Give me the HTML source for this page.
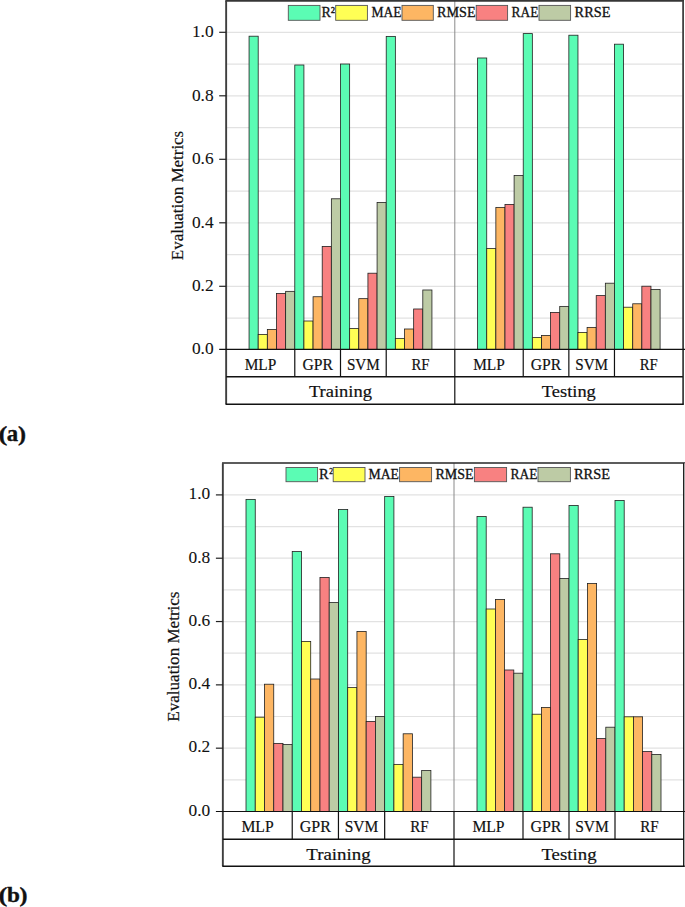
<!DOCTYPE html>
<html lang="en"><head><meta charset="utf-8"><title>Evaluation Metrics</title>
<style>html,body{margin:0;padding:0;background:#fff}svg{display:block}text{fill:#111}</style></head><body>
<svg width="685" height="907" viewBox="0 0 685 907">
<rect width="685" height="907" fill="#fff"/>
<g>
<line x1="226.2" x2="682.9" y1="318.05" y2="318.05" stroke="#e2e2e2" stroke-width="1.2"/>
<line x1="226.2" x2="682.9" y1="286.30" y2="286.30" stroke="#e2e2e2" stroke-width="1.2"/>
<line x1="226.2" x2="682.9" y1="254.55" y2="254.55" stroke="#e2e2e2" stroke-width="1.2"/>
<line x1="226.2" x2="682.9" y1="222.80" y2="222.80" stroke="#e2e2e2" stroke-width="1.2"/>
<line x1="226.2" x2="682.9" y1="191.05" y2="191.05" stroke="#e2e2e2" stroke-width="1.2"/>
<line x1="226.2" x2="682.9" y1="159.30" y2="159.30" stroke="#e2e2e2" stroke-width="1.2"/>
<line x1="226.2" x2="682.9" y1="127.55" y2="127.55" stroke="#e2e2e2" stroke-width="1.2"/>
<line x1="226.2" x2="682.9" y1="95.80" y2="95.80" stroke="#e2e2e2" stroke-width="1.2"/>
<line x1="226.2" x2="682.9" y1="64.05" y2="64.05" stroke="#e2e2e2" stroke-width="1.2"/>
<line x1="226.2" x2="682.9" y1="32.30" y2="32.30" stroke="#e2e2e2" stroke-width="1.2"/>
<line x1="454.8" x2="454.8" y1="0.65" y2="349.4" stroke="#8a8a8a" stroke-width="1"/>
<rect x="249.06" y="36.20" width="9.14" height="313.20" fill="#5bfcb4" stroke="#202020" stroke-width="0.8"/>
<rect x="258.20" y="334.40" width="9.14" height="15.00" fill="#ffff55" stroke="#202020" stroke-width="0.8"/>
<rect x="267.35" y="329.42" width="9.14" height="19.98" fill="#fdb663" stroke="#202020" stroke-width="0.8"/>
<rect x="276.49" y="293.41" width="9.14" height="55.99" fill="#f88181" stroke="#202020" stroke-width="0.8"/>
<rect x="285.64" y="291.35" width="9.14" height="58.05" fill="#bdcba5" stroke="#202020" stroke-width="0.8"/>
<rect x="294.78" y="65.00" width="9.14" height="284.40" fill="#5bfcb4" stroke="#202020" stroke-width="0.8"/>
<rect x="303.92" y="321.01" width="9.14" height="28.39" fill="#ffff55" stroke="#202020" stroke-width="0.8"/>
<rect x="313.07" y="296.74" width="9.14" height="52.66" fill="#fdb663" stroke="#202020" stroke-width="0.8"/>
<rect x="322.21" y="246.41" width="9.14" height="102.99" fill="#f88181" stroke="#202020" stroke-width="0.8"/>
<rect x="331.36" y="198.79" width="9.14" height="150.61" fill="#bdcba5" stroke="#202020" stroke-width="0.8"/>
<rect x="340.50" y="64.02" width="9.14" height="285.38" fill="#5bfcb4" stroke="#202020" stroke-width="0.8"/>
<rect x="349.64" y="328.46" width="9.14" height="20.94" fill="#ffff55" stroke="#202020" stroke-width="0.8"/>
<rect x="358.79" y="298.65" width="9.14" height="50.75" fill="#fdb663" stroke="#202020" stroke-width="0.8"/>
<rect x="367.93" y="273.21" width="9.14" height="76.19" fill="#f88181" stroke="#202020" stroke-width="0.8"/>
<rect x="377.08" y="202.41" width="9.14" height="146.99" fill="#bdcba5" stroke="#202020" stroke-width="0.8"/>
<rect x="386.22" y="36.39" width="9.14" height="313.01" fill="#5bfcb4" stroke="#202020" stroke-width="0.8"/>
<rect x="395.36" y="338.39" width="9.14" height="11.01" fill="#ffff55" stroke="#202020" stroke-width="0.8"/>
<rect x="404.51" y="329.00" width="9.14" height="20.40" fill="#fdb663" stroke="#202020" stroke-width="0.8"/>
<rect x="413.65" y="308.99" width="9.14" height="40.41" fill="#f88181" stroke="#202020" stroke-width="0.8"/>
<rect x="422.80" y="289.99" width="9.14" height="59.41" fill="#bdcba5" stroke="#202020" stroke-width="0.8"/>
<rect x="477.61" y="57.99" width="9.12" height="291.41" fill="#5bfcb4" stroke="#202020" stroke-width="0.8"/>
<rect x="486.73" y="248.59" width="9.12" height="100.81" fill="#ffff55" stroke="#202020" stroke-width="0.8"/>
<rect x="495.86" y="207.39" width="9.12" height="142.01" fill="#fdb663" stroke="#202020" stroke-width="0.8"/>
<rect x="504.98" y="204.41" width="9.12" height="144.99" fill="#f88181" stroke="#202020" stroke-width="0.8"/>
<rect x="514.11" y="175.57" width="9.12" height="173.83" fill="#bdcba5" stroke="#202020" stroke-width="0.8"/>
<rect x="523.23" y="33.60" width="9.12" height="315.80" fill="#5bfcb4" stroke="#202020" stroke-width="0.8"/>
<rect x="532.35" y="337.60" width="9.12" height="11.80" fill="#ffff55" stroke="#202020" stroke-width="0.8"/>
<rect x="541.48" y="335.41" width="9.12" height="13.99" fill="#fdb663" stroke="#202020" stroke-width="0.8"/>
<rect x="550.60" y="312.41" width="9.12" height="36.99" fill="#f88181" stroke="#202020" stroke-width="0.8"/>
<rect x="559.73" y="306.39" width="9.12" height="43.01" fill="#bdcba5" stroke="#202020" stroke-width="0.8"/>
<rect x="568.85" y="35.21" width="9.12" height="314.19" fill="#5bfcb4" stroke="#202020" stroke-width="0.8"/>
<rect x="577.97" y="332.40" width="9.12" height="17.00" fill="#ffff55" stroke="#202020" stroke-width="0.8"/>
<rect x="587.10" y="327.39" width="9.12" height="22.01" fill="#fdb663" stroke="#202020" stroke-width="0.8"/>
<rect x="596.22" y="295.60" width="9.12" height="53.80" fill="#f88181" stroke="#202020" stroke-width="0.8"/>
<rect x="605.35" y="283.20" width="9.12" height="66.20" fill="#bdcba5" stroke="#202020" stroke-width="0.8"/>
<rect x="614.47" y="44.19" width="9.12" height="305.21" fill="#5bfcb4" stroke="#202020" stroke-width="0.8"/>
<rect x="623.59" y="307.21" width="9.12" height="42.19" fill="#ffff55" stroke="#202020" stroke-width="0.8"/>
<rect x="632.72" y="303.79" width="9.12" height="45.61" fill="#fdb663" stroke="#202020" stroke-width="0.8"/>
<rect x="641.84" y="286.21" width="9.12" height="63.19" fill="#f88181" stroke="#202020" stroke-width="0.8"/>
<rect x="650.97" y="289.39" width="9.12" height="60.01" fill="#bdcba5" stroke="#202020" stroke-width="0.8"/>
<line x1="225.35" x2="684.0" y1="0.8" y2="0.8" stroke="#363636" stroke-width="1.7"/>
<line x1="226.14999999999998" x2="226.14999999999998" y1="0.65" y2="404.2" stroke="#3e3e3e" stroke-width="1.9"/>
<line x1="683.1" x2="683.1" y1="0.65" y2="404.7" stroke="#424242" stroke-width="1.8"/>
<line x1="219.2" x2="685" y1="349.4" y2="349.4" stroke="#111" stroke-width="1.2"/>
<line x1="226.2" x2="682.9" y1="376.8" y2="376.8" stroke="#111" stroke-width="1.4"/>
<line x1="225.6" x2="683.6" y1="404.2" y2="404.2" stroke="#111" stroke-width="1.4"/>
<line x1="454.8" x2="454.8" y1="349.4" y2="404.2" stroke="#111" stroke-width="1.2"/>
<text x="213.6" y="354.30" font-family="Liberation Serif, serif" font-size="16.4" stroke="#111" stroke-width="0.08" text-anchor="end" textLength="21.7" lengthAdjust="spacingAndGlyphs">0.0</text>
<line x1="219.2" x2="226.2" y1="286.30" y2="286.30" stroke="#222" stroke-width="1.2"/>
<text x="213.6" y="291.20" font-family="Liberation Serif, serif" font-size="16.4" stroke="#111" stroke-width="0.08" text-anchor="end" textLength="21.7" lengthAdjust="spacingAndGlyphs">0.2</text>
<line x1="219.2" x2="226.2" y1="222.80" y2="222.80" stroke="#222" stroke-width="1.2"/>
<text x="213.6" y="227.70" font-family="Liberation Serif, serif" font-size="16.4" stroke="#111" stroke-width="0.08" text-anchor="end" textLength="21.7" lengthAdjust="spacingAndGlyphs">0.4</text>
<line x1="219.2" x2="226.2" y1="159.30" y2="159.30" stroke="#222" stroke-width="1.2"/>
<text x="213.6" y="164.20" font-family="Liberation Serif, serif" font-size="16.4" stroke="#111" stroke-width="0.08" text-anchor="end" textLength="21.7" lengthAdjust="spacingAndGlyphs">0.6</text>
<line x1="219.2" x2="226.2" y1="95.80" y2="95.80" stroke="#222" stroke-width="1.2"/>
<text x="213.6" y="100.70" font-family="Liberation Serif, serif" font-size="16.4" stroke="#111" stroke-width="0.08" text-anchor="end" textLength="21.7" lengthAdjust="spacingAndGlyphs">0.8</text>
<line x1="219.2" x2="226.2" y1="32.30" y2="32.30" stroke="#222" stroke-width="1.2"/>
<text x="213.6" y="37.20" font-family="Liberation Serif, serif" font-size="16.4" stroke="#111" stroke-width="0.08" text-anchor="end" textLength="21.7" lengthAdjust="spacingAndGlyphs">1.0</text>
<line x1="294.78" x2="294.78" y1="349.4" y2="376.8" stroke="#111" stroke-width="1.2"/>
<line x1="340.50" x2="340.50" y1="349.4" y2="376.8" stroke="#111" stroke-width="1.2"/>
<line x1="386.22" x2="386.22" y1="349.4" y2="376.8" stroke="#111" stroke-width="1.2"/>
<text x="260.49" y="369.70" font-family="Liberation Serif, serif" font-size="17" stroke="#111" stroke-width="0.2" text-anchor="middle" textLength="31.6" lengthAdjust="spacingAndGlyphs">MLP</text>
<text x="317.64" y="369.70" font-family="Liberation Serif, serif" font-size="17" stroke="#111" stroke-width="0.2" text-anchor="middle" textLength="30.4" lengthAdjust="spacingAndGlyphs">GPR</text>
<text x="363.36" y="369.70" font-family="Liberation Serif, serif" font-size="17" stroke="#111" stroke-width="0.2" text-anchor="middle" textLength="32.9" lengthAdjust="spacingAndGlyphs">SVM</text>
<text x="420.51" y="369.70" font-family="Liberation Serif, serif" font-size="17" stroke="#111" stroke-width="0.2" text-anchor="middle" textLength="18.0" lengthAdjust="spacingAndGlyphs">RF</text>
<text x="340.50" y="397.30" font-family="Liberation Serif, serif" font-size="17" stroke="#111" stroke-width="0.2" text-anchor="middle" textLength="63.1" lengthAdjust="spacingAndGlyphs">Training</text>
<line x1="523.23" x2="523.23" y1="349.4" y2="376.8" stroke="#111" stroke-width="1.2"/>
<line x1="568.85" x2="568.85" y1="349.4" y2="376.8" stroke="#111" stroke-width="1.2"/>
<line x1="614.47" x2="614.47" y1="349.4" y2="376.8" stroke="#111" stroke-width="1.2"/>
<text x="489.01" y="369.70" font-family="Liberation Serif, serif" font-size="17" stroke="#111" stroke-width="0.2" text-anchor="middle" textLength="31.6" lengthAdjust="spacingAndGlyphs">MLP</text>
<text x="546.04" y="369.70" font-family="Liberation Serif, serif" font-size="17" stroke="#111" stroke-width="0.2" text-anchor="middle" textLength="30.4" lengthAdjust="spacingAndGlyphs">GPR</text>
<text x="591.66" y="369.70" font-family="Liberation Serif, serif" font-size="17" stroke="#111" stroke-width="0.2" text-anchor="middle" textLength="32.9" lengthAdjust="spacingAndGlyphs">SVM</text>
<text x="648.68" y="369.70" font-family="Liberation Serif, serif" font-size="17" stroke="#111" stroke-width="0.2" text-anchor="middle" textLength="18.0" lengthAdjust="spacingAndGlyphs">RF</text>
<text x="568.85" y="397.30" font-family="Liberation Serif, serif" font-size="17" stroke="#111" stroke-width="0.2" text-anchor="middle" textLength="54.0" lengthAdjust="spacingAndGlyphs">Testing</text>
<text transform="translate(182.7,195.5) rotate(-90)" font-family="Liberation Serif, serif" font-size="16" stroke="#111" stroke-width="0.2" text-anchor="middle" textLength="129.4" lengthAdjust="spacingAndGlyphs">Evaluation Metrics</text>
<rect x="288.3" y="5.4" width="31.70" height="14.90" fill="#5bfcb4" stroke="#555" stroke-width="0.9"/>
<text x="321.4" y="17.2" font-family="Liberation Serif, serif" font-size="14.5" stroke="#111" stroke-width="0.3" textLength="13.6" lengthAdjust="spacingAndGlyphs">R²</text>
<rect x="335.7" y="5.4" width="31.70" height="14.90" fill="#ffff55" stroke="#555" stroke-width="0.9"/>
<text x="371.4" y="17.2" font-family="Liberation Serif, serif" font-size="14.5" stroke="#111" stroke-width="0.3" textLength="30.2" lengthAdjust="spacingAndGlyphs">MAE</text>
<rect x="402.0" y="5.4" width="31.30" height="14.90" fill="#fdb663" stroke="#555" stroke-width="0.9"/>
<text x="437.0" y="17.2" font-family="Liberation Serif, serif" font-size="14.5" stroke="#111" stroke-width="0.3" textLength="38.6" lengthAdjust="spacingAndGlyphs">RMSE</text>
<rect x="476.2" y="5.4" width="31.40" height="14.90" fill="#f88181" stroke="#555" stroke-width="0.9"/>
<text x="511.6" y="17.2" font-family="Liberation Serif, serif" font-size="14.5" stroke="#111" stroke-width="0.3" textLength="26.8" lengthAdjust="spacingAndGlyphs">RAE</text>
<rect x="539.0" y="5.4" width="31.60" height="14.90" fill="#bdcba5" stroke="#555" stroke-width="0.9"/>
<text x="574.6" y="17.2" font-family="Liberation Serif, serif" font-size="14.5" stroke="#111" stroke-width="0.3" textLength="35.8" lengthAdjust="spacingAndGlyphs">RRSE</text>
<text y="441.0" font-family="Liberation Serif, serif" font-weight="bold" stroke="#111" stroke-width="0.35"><tspan x="-1.5" font-size="22" textLength="8.8" lengthAdjust="spacingAndGlyphs">(</tspan><tspan x="6.8" font-size="23.4" textLength="11.4" lengthAdjust="spacingAndGlyphs">a</tspan><tspan x="18.1" font-size="22" textLength="8.0" lengthAdjust="spacingAndGlyphs">)</tspan></text>
</g>
<g>
<line x1="222.9" x2="684.0" y1="779.84" y2="779.84" stroke="#e2e2e2" stroke-width="1.2"/>
<line x1="222.9" x2="684.0" y1="748.18" y2="748.18" stroke="#e2e2e2" stroke-width="1.2"/>
<line x1="222.9" x2="684.0" y1="716.52" y2="716.52" stroke="#e2e2e2" stroke-width="1.2"/>
<line x1="222.9" x2="684.0" y1="684.86" y2="684.86" stroke="#e2e2e2" stroke-width="1.2"/>
<line x1="222.9" x2="684.0" y1="653.20" y2="653.20" stroke="#e2e2e2" stroke-width="1.2"/>
<line x1="222.9" x2="684.0" y1="621.54" y2="621.54" stroke="#e2e2e2" stroke-width="1.2"/>
<line x1="222.9" x2="684.0" y1="589.88" y2="589.88" stroke="#e2e2e2" stroke-width="1.2"/>
<line x1="222.9" x2="684.0" y1="558.22" y2="558.22" stroke="#e2e2e2" stroke-width="1.2"/>
<line x1="222.9" x2="684.0" y1="526.56" y2="526.56" stroke="#e2e2e2" stroke-width="1.2"/>
<line x1="222.9" x2="684.0" y1="494.90" y2="494.90" stroke="#e2e2e2" stroke-width="1.2"/>
<line x1="454.0" x2="454.0" y1="463.2" y2="811.5" stroke="#8a8a8a" stroke-width="1"/>
<rect x="246.01" y="499.39" width="9.24" height="312.11" fill="#5bfcb4" stroke="#202020" stroke-width="0.8"/>
<rect x="255.25" y="717.19" width="9.24" height="94.31" fill="#ffff55" stroke="#202020" stroke-width="0.8"/>
<rect x="264.50" y="684.21" width="9.24" height="127.29" fill="#fdb663" stroke="#202020" stroke-width="0.8"/>
<rect x="273.74" y="743.39" width="9.24" height="68.11" fill="#f88181" stroke="#202020" stroke-width="0.8"/>
<rect x="282.99" y="744.59" width="9.24" height="66.91" fill="#bdcba5" stroke="#202020" stroke-width="0.8"/>
<rect x="292.23" y="551.60" width="9.24" height="259.90" fill="#5bfcb4" stroke="#202020" stroke-width="0.8"/>
<rect x="301.47" y="641.41" width="9.24" height="170.09" fill="#ffff55" stroke="#202020" stroke-width="0.8"/>
<rect x="310.72" y="679.01" width="9.24" height="132.49" fill="#fdb663" stroke="#202020" stroke-width="0.8"/>
<rect x="319.96" y="577.42" width="9.24" height="234.08" fill="#f88181" stroke="#202020" stroke-width="0.8"/>
<rect x="329.21" y="602.60" width="9.24" height="208.90" fill="#bdcba5" stroke="#202020" stroke-width="0.8"/>
<rect x="338.45" y="509.59" width="9.24" height="301.91" fill="#5bfcb4" stroke="#202020" stroke-width="0.8"/>
<rect x="347.69" y="687.60" width="9.24" height="123.90" fill="#ffff55" stroke="#202020" stroke-width="0.8"/>
<rect x="356.94" y="631.40" width="9.24" height="180.10" fill="#fdb663" stroke="#202020" stroke-width="0.8"/>
<rect x="366.18" y="721.40" width="9.24" height="90.10" fill="#f88181" stroke="#202020" stroke-width="0.8"/>
<rect x="375.43" y="716.59" width="9.24" height="94.91" fill="#bdcba5" stroke="#202020" stroke-width="0.8"/>
<rect x="384.67" y="496.41" width="9.24" height="315.09" fill="#5bfcb4" stroke="#202020" stroke-width="0.8"/>
<rect x="393.91" y="764.39" width="9.24" height="47.11" fill="#ffff55" stroke="#202020" stroke-width="0.8"/>
<rect x="403.16" y="733.79" width="9.24" height="77.71" fill="#fdb663" stroke="#202020" stroke-width="0.8"/>
<rect x="412.40" y="777.19" width="9.24" height="34.31" fill="#f88181" stroke="#202020" stroke-width="0.8"/>
<rect x="421.65" y="770.60" width="9.24" height="40.90" fill="#bdcba5" stroke="#202020" stroke-width="0.8"/>
<rect x="477.00" y="516.59" width="9.20" height="294.91" fill="#5bfcb4" stroke="#202020" stroke-width="0.8"/>
<rect x="486.20" y="609.00" width="9.20" height="202.50" fill="#ffff55" stroke="#202020" stroke-width="0.8"/>
<rect x="495.40" y="599.59" width="9.20" height="211.91" fill="#fdb663" stroke="#202020" stroke-width="0.8"/>
<rect x="504.60" y="669.99" width="9.20" height="141.51" fill="#f88181" stroke="#202020" stroke-width="0.8"/>
<rect x="513.80" y="673.19" width="9.20" height="138.31" fill="#bdcba5" stroke="#202020" stroke-width="0.8"/>
<rect x="523.00" y="507.21" width="9.20" height="304.29" fill="#5bfcb4" stroke="#202020" stroke-width="0.8"/>
<rect x="532.20" y="714.21" width="9.20" height="97.29" fill="#ffff55" stroke="#202020" stroke-width="0.8"/>
<rect x="541.40" y="707.40" width="9.20" height="104.10" fill="#fdb663" stroke="#202020" stroke-width="0.8"/>
<rect x="550.60" y="553.81" width="9.20" height="257.69" fill="#f88181" stroke="#202020" stroke-width="0.8"/>
<rect x="559.80" y="578.40" width="9.20" height="233.10" fill="#bdcba5" stroke="#202020" stroke-width="0.8"/>
<rect x="569.00" y="505.41" width="9.20" height="306.09" fill="#5bfcb4" stroke="#202020" stroke-width="0.8"/>
<rect x="578.20" y="639.41" width="9.20" height="172.09" fill="#ffff55" stroke="#202020" stroke-width="0.8"/>
<rect x="587.40" y="583.59" width="9.20" height="227.91" fill="#fdb663" stroke="#202020" stroke-width="0.8"/>
<rect x="596.60" y="738.60" width="9.20" height="72.90" fill="#f88181" stroke="#202020" stroke-width="0.8"/>
<rect x="605.80" y="727.20" width="9.20" height="84.30" fill="#bdcba5" stroke="#202020" stroke-width="0.8"/>
<rect x="615.00" y="500.40" width="9.20" height="311.10" fill="#5bfcb4" stroke="#202020" stroke-width="0.8"/>
<rect x="624.20" y="716.81" width="9.20" height="94.69" fill="#ffff55" stroke="#202020" stroke-width="0.8"/>
<rect x="633.40" y="716.81" width="9.20" height="94.69" fill="#fdb663" stroke="#202020" stroke-width="0.8"/>
<rect x="642.60" y="751.59" width="9.20" height="59.91" fill="#f88181" stroke="#202020" stroke-width="0.8"/>
<rect x="651.80" y="754.41" width="9.20" height="57.09" fill="#bdcba5" stroke="#202020" stroke-width="0.8"/>
<line x1="222.05" x2="685" y1="463.1" y2="463.1" stroke="#262626" stroke-width="1.5"/>
<line x1="222.85" x2="222.85" y1="463.2" y2="866.3" stroke="#3e3e3e" stroke-width="1.9"/>
<line x1="683.6" x2="683.6" y1="463.2" y2="866.8" stroke="#0a0a0a" stroke-width="1.0"/>
<line x1="684.6" x2="684.6" y1="463.2" y2="866.8" stroke="#9a9a9a" stroke-width="0.9"/>
<line x1="215.9" x2="685" y1="811.5" y2="811.5" stroke="#111" stroke-width="1.2"/>
<line x1="222.9" x2="684.0" y1="839.3" y2="839.3" stroke="#111" stroke-width="1.4"/>
<line x1="222.3" x2="684.7" y1="866.3" y2="866.3" stroke="#111" stroke-width="1.4"/>
<line x1="454.0" x2="454.0" y1="811.5" y2="866.3" stroke="#111" stroke-width="1.2"/>
<text x="210.3" y="815.80" font-family="Liberation Serif, serif" font-size="16.4" stroke="#111" stroke-width="0.08" text-anchor="end" textLength="21.7" lengthAdjust="spacingAndGlyphs">0.0</text>
<line x1="215.9" x2="222.9" y1="748.18" y2="748.18" stroke="#222" stroke-width="1.2"/>
<text x="210.3" y="752.48" font-family="Liberation Serif, serif" font-size="16.4" stroke="#111" stroke-width="0.08" text-anchor="end" textLength="21.7" lengthAdjust="spacingAndGlyphs">0.2</text>
<line x1="215.9" x2="222.9" y1="684.86" y2="684.86" stroke="#222" stroke-width="1.2"/>
<text x="210.3" y="689.16" font-family="Liberation Serif, serif" font-size="16.4" stroke="#111" stroke-width="0.08" text-anchor="end" textLength="21.7" lengthAdjust="spacingAndGlyphs">0.4</text>
<line x1="215.9" x2="222.9" y1="621.54" y2="621.54" stroke="#222" stroke-width="1.2"/>
<text x="210.3" y="625.84" font-family="Liberation Serif, serif" font-size="16.4" stroke="#111" stroke-width="0.08" text-anchor="end" textLength="21.7" lengthAdjust="spacingAndGlyphs">0.6</text>
<line x1="215.9" x2="222.9" y1="558.22" y2="558.22" stroke="#222" stroke-width="1.2"/>
<text x="210.3" y="562.52" font-family="Liberation Serif, serif" font-size="16.4" stroke="#111" stroke-width="0.08" text-anchor="end" textLength="21.7" lengthAdjust="spacingAndGlyphs">0.8</text>
<line x1="215.9" x2="222.9" y1="494.90" y2="494.90" stroke="#222" stroke-width="1.2"/>
<text x="210.3" y="499.20" font-family="Liberation Serif, serif" font-size="16.4" stroke="#111" stroke-width="0.08" text-anchor="end" textLength="21.7" lengthAdjust="spacingAndGlyphs">1.0</text>
<line x1="292.23" x2="292.23" y1="811.5" y2="839.3" stroke="#111" stroke-width="1.2"/>
<line x1="338.45" x2="338.45" y1="811.5" y2="839.3" stroke="#111" stroke-width="1.2"/>
<line x1="384.67" x2="384.67" y1="811.5" y2="839.3" stroke="#111" stroke-width="1.2"/>
<text x="257.56" y="831.80" font-family="Liberation Serif, serif" font-size="17" stroke="#111" stroke-width="0.2" text-anchor="middle" textLength="32.2" lengthAdjust="spacingAndGlyphs">MLP</text>
<text x="315.34" y="831.80" font-family="Liberation Serif, serif" font-size="17" stroke="#111" stroke-width="0.2" text-anchor="middle" textLength="31.0" lengthAdjust="spacingAndGlyphs">GPR</text>
<text x="361.56" y="831.80" font-family="Liberation Serif, serif" font-size="17" stroke="#111" stroke-width="0.2" text-anchor="middle" textLength="33.6" lengthAdjust="spacingAndGlyphs">SVM</text>
<text x="419.33" y="831.80" font-family="Liberation Serif, serif" font-size="17" stroke="#111" stroke-width="0.2" text-anchor="middle" textLength="18.4" lengthAdjust="spacingAndGlyphs">RF</text>
<text x="338.45" y="859.80" font-family="Liberation Serif, serif" font-size="17" stroke="#111" stroke-width="0.2" text-anchor="middle" textLength="64.4" lengthAdjust="spacingAndGlyphs">Training</text>
<line x1="523.00" x2="523.00" y1="811.5" y2="839.3" stroke="#111" stroke-width="1.2"/>
<line x1="569.00" x2="569.00" y1="811.5" y2="839.3" stroke="#111" stroke-width="1.2"/>
<line x1="615.00" x2="615.00" y1="811.5" y2="839.3" stroke="#111" stroke-width="1.2"/>
<text x="488.50" y="831.80" font-family="Liberation Serif, serif" font-size="17" stroke="#111" stroke-width="0.2" text-anchor="middle" textLength="32.2" lengthAdjust="spacingAndGlyphs">MLP</text>
<text x="546.00" y="831.80" font-family="Liberation Serif, serif" font-size="17" stroke="#111" stroke-width="0.2" text-anchor="middle" textLength="31.0" lengthAdjust="spacingAndGlyphs">GPR</text>
<text x="592.00" y="831.80" font-family="Liberation Serif, serif" font-size="17" stroke="#111" stroke-width="0.2" text-anchor="middle" textLength="33.6" lengthAdjust="spacingAndGlyphs">SVM</text>
<text x="649.50" y="831.80" font-family="Liberation Serif, serif" font-size="17" stroke="#111" stroke-width="0.2" text-anchor="middle" textLength="18.4" lengthAdjust="spacingAndGlyphs">RF</text>
<text x="569.00" y="859.80" font-family="Liberation Serif, serif" font-size="17" stroke="#111" stroke-width="0.2" text-anchor="middle" textLength="55.1" lengthAdjust="spacingAndGlyphs">Testing</text>
<text transform="translate(178.7,656.6) rotate(-90)" font-family="Liberation Serif, serif" font-size="16" stroke="#111" stroke-width="0.2" text-anchor="middle" textLength="130.2" lengthAdjust="spacingAndGlyphs">Evaluation Metrics</text>
<rect x="286.0" y="467.5" width="31.60" height="14.20" fill="#5bfcb4" stroke="#555" stroke-width="0.9"/>
<text x="319.0" y="479.4" font-family="Liberation Serif, serif" font-size="14.5" stroke="#111" stroke-width="0.3">R<tspan dy="-5.3" dx="0.6" font-size="7.6">2</tspan></text>
<rect x="333.2" y="467.5" width="31.80" height="14.20" fill="#ffff55" stroke="#555" stroke-width="0.9"/>
<text x="368.4" y="479.4" font-family="Liberation Serif, serif" font-size="14.5" stroke="#111" stroke-width="0.3" textLength="30.6" lengthAdjust="spacingAndGlyphs">MAE</text>
<rect x="399.6" y="467.5" width="32.00" height="14.20" fill="#fdb663" stroke="#555" stroke-width="0.9"/>
<text x="435.4" y="479.4" font-family="Liberation Serif, serif" font-size="14.5" stroke="#111" stroke-width="0.3" textLength="38.2" lengthAdjust="spacingAndGlyphs">RMSE</text>
<rect x="474.4" y="467.5" width="32.20" height="14.20" fill="#f88181" stroke="#555" stroke-width="0.9"/>
<text x="510.6" y="479.4" font-family="Liberation Serif, serif" font-size="14.5" stroke="#111" stroke-width="0.3" textLength="27.0" lengthAdjust="spacingAndGlyphs">RAE</text>
<rect x="538.0" y="467.5" width="32.40" height="14.20" fill="#bdcba5" stroke="#555" stroke-width="0.9"/>
<text x="574.0" y="479.4" font-family="Liberation Serif, serif" font-size="14.5" stroke="#111" stroke-width="0.3" textLength="36.0" lengthAdjust="spacingAndGlyphs">RRSE</text>
<text y="902.3" font-family="Liberation Serif, serif" font-weight="bold" stroke="#111" stroke-width="0.35"><tspan x="-1.5" font-size="22" textLength="8.8" lengthAdjust="spacingAndGlyphs">(</tspan><tspan x="7.0" font-size="20.6" textLength="12.9" lengthAdjust="spacingAndGlyphs">b</tspan><tspan x="19.6" font-size="22" textLength="8.0" lengthAdjust="spacingAndGlyphs">)</tspan></text>
</g>
</svg></body></html>
